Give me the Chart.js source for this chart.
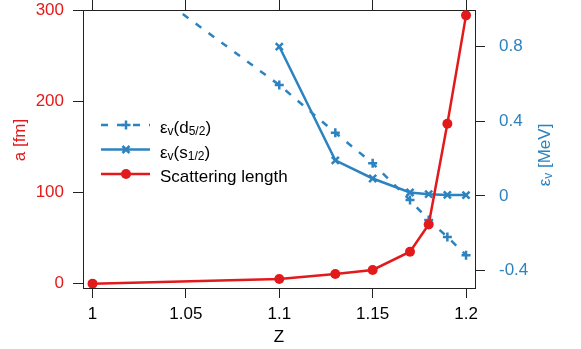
<!DOCTYPE html>
<html>
<head>
<meta charset="utf-8">
<script src="https://cdn.jsdelivr.net/npm/chart.js@4"></script>
<style>
  body { margin: 0; background: #fff; }
  #wrap { width: 581px; height: 349px; }
</style>
</head>
<body>
<div id="wrap"><canvas id="zChart" width="581" height="349"></canvas></div>
<script>
// values
const zValues = [1, 1.1, 1.13, 1.15, 1.17, 1.18, 1.19, 1.2];
const scatteringLength = [0, 5, 10.5, 15, 35, 65, 175.5, 294.5];
const zD52 = [1, 1.1, 1.13, 1.15, 1.17, 1.18, 1.19, 1.2];
const epsD52 = [1.33, 0.594, 0.338, 0.174, -0.023, -0.13, -0.22, -0.318];
const zS12 = [1.1, 1.13, 1.15, 1.17, 1.18, 1.19, 1.2];
const epsS12 = [0.8, 0.19, 0.093, 0.018, 0.009, 0.005, 0.004];

const zTicks = [1, 1.05, 1.1, 1.15, 1.2];
const aTicks = [0, 100, 200, 300];
const epsTicks = [-0.4, 0, 0.4, 0.8];

const RED = '#e31a1c';
const BLUE = '#2c83c0';
const AXIS = '#222';
const FONT = '"Liberation Sans", Arial, sans-serif';

const toPoints = (xs, ys) => xs.map((x, i) => ({ x: x, y: ys[i] }));
const setTicks = vals => scale => { scale.ticks = vals.map(v => ({ value: v })); };
// fixed scale sizes so the plot box lands where it is in the reference
const fixSize = (w, h) => scale => {
    if (w != null) scale.width = w;
    if (h != null) scale.height = h;
    scale.paddingTop = 0;
    scale.paddingBottom = 0;
    scale.paddingLeft = 0;
    scale.paddingRight = 0;
};

function drawRich(ctx, parts, x, y) {
    parts.forEach(p => {
        ctx.font = (p[1] ? 12 : 17) + 'px ' + FONT;
        ctx.fillText(p[0], x, y + (p[1] ? 2 : 0));
        x += ctx.measureText(p[0]).width;
    });
    return x;
}
function richWidth(ctx, parts) {
    let w = 0;
    parts.forEach(p => {
        ctx.font = (p[1] ? 12 : 17) + 'px ' + FONT;
        w += ctx.measureText(p[0]).width;
    });
    return w;
}

function drawMarker(ctx, style, x, y, color) {
    ctx.save();
    ctx.strokeStyle = color;
    ctx.fillStyle = color;
    ctx.lineWidth = 2.5;
    ctx.setLineDash([]);
    ctx.beginPath();
    if (style === 'cross') {
        ctx.moveTo(x - 4.5, y); ctx.lineTo(x + 4.5, y);
        ctx.moveTo(x, y - 4.5); ctx.lineTo(x, y + 4.5);
        ctx.stroke();
    } else if (style === 'crossRot') {
        ctx.moveTo(x - 3.5, y - 3.5); ctx.lineTo(x + 3.5, y + 3.5);
        ctx.moveTo(x - 3.5, y + 3.5); ctx.lineTo(x + 3.5, y - 3.5);
        ctx.stroke();
    } else {
        ctx.arc(x, y, 5, 0, Math.PI * 2);
        ctx.fill();
    }
    ctx.restore();
}

const legendRows = [
    { parts: [['ε'], ['v', 1], ['(d'], ['5/2', 1], [')']], color: BLUE, dash: [7, 9], marker: 'cross' },
    { parts: [['ε'], ['v', 1], ['(s'], ['1/2', 1], [')']], color: BLUE, dash: [], marker: 'crossRot' },
    { parts: [['Scattering length']], color: RED, dash: [], marker: 'circle' }
];

const textPlugin = {
    id: 'textPlugin',
    afterDraw(chart) {
        const ctx = chart.ctx;
        ctx.save();
        ctx.textBaseline = 'alphabetic';
        ctx.textAlign = 'left';

        // legend
        legendRows.forEach((row, i) => {
            const ly = 125 + i * 24.5;
            ctx.strokeStyle = row.color;
            ctx.lineWidth = 2.5;
            ctx.setLineDash(row.dash);
            ctx.beginPath();
            ctx.moveTo(101, ly);
            ctx.lineTo(150, ly);
            ctx.stroke();
            ctx.setLineDash([]);
            drawMarker(ctx, row.marker, 126, ly, row.color);
            ctx.fillStyle = '#000';
            drawRich(ctx, row.parts, 160, ly + 8);
        });

        // axis titles
        const leftTitle = [['a [fm]']];
        ctx.fillStyle = RED;
        ctx.save();
        ctx.translate(25, 140);
        ctx.rotate(-Math.PI / 2);
        drawRich(ctx, leftTitle, -richWidth(ctx, leftTitle) / 2, 0);
        ctx.restore();

        const rightTitle = [['ε'], ['v', 1], [' [MeV]']];
        ctx.fillStyle = BLUE;
        ctx.save();
        ctx.translate(550, 155);
        ctx.rotate(-Math.PI / 2);
        drawRich(ctx, rightTitle, -richWidth(ctx, rightTitle) / 2, 0);
        ctx.restore();

        ctx.fillStyle = '#000';
        const zTitle = [['Z']];
        drawRich(ctx, zTitle, 279 - richWidth(ctx, zTitle) / 2, 341.5);
        ctx.restore();
    }
};

const tickFont = { family: FONT, size: 17 };

new Chart(document.getElementById('zChart'), {
    type: 'line',
    data: {
        datasets: [{
            label: 'Scattering length',
            data: toPoints(zValues, scatteringLength),
            yAxisID: 'y',
            borderColor: RED,
            backgroundColor: RED,
            borderWidth: 2.5,
            pointStyle: 'circle',
            pointRadius: 5,
            pointBorderWidth: 0,
            order: 0
        }, {
            label: 'eps s1/2',
            data: toPoints(zS12, epsS12),
            yAxisID: 'y2',
            borderColor: BLUE,
            backgroundColor: BLUE,
            borderWidth: 2.5,
            pointStyle: 'crossRot',
            pointRadius: 5,
            pointBorderWidth: 2.5,
            order: 1
        }, {
            label: 'eps d5/2',
            data: toPoints(zD52, epsD52),
            yAxisID: 'y2',
            borderColor: BLUE,
            backgroundColor: BLUE,
            borderWidth: 2.5,
            borderDash: [7, 9],
            pointStyle: 'cross',
            pointRadius: 4.5,
            pointBorderWidth: 2.5,
            order: 2
        }]
    },
    options: {
        responsive: false,
        animation: false,
        layout: { padding: 0 },
        elements: { line: { tension: 0 } },
        plugins: {
            legend: { display: false },
            tooltip: { enabled: false }
        },
        scales: {
            x: {
                type: 'linear',
                position: 'bottom',
                min: 0.9949,
                max: 1.2048,
                afterBuildTicks: setTicks(zTicks),
                afterFit: fixSize(null, 61),
                ticks: { font: tickFont, color: '#000', padding: 6, maxRotation: 0, callback: v => String(v) },
                grid: { drawOnChartArea: false, tickLength: 10, tickColor: AXIS, tickWidth: 1 },
                border: { color: AXIS, width: 1 }
            },
            x2: {
                type: 'linear',
                position: 'top',
                min: 0.9949,
                max: 1.2048,
                afterBuildTicks: setTicks(zTicks),
                afterFit: fixSize(null, 10),
                ticks: { display: false },
                grid: { drawOnChartArea: false, tickLength: 10, tickColor: AXIS, tickWidth: 1 },
                border: { color: AXIS, width: 1 }
            },
            y: {
                type: 'linear',
                position: 'left',
                min: -4.8,
                max: 300.4,
                afterBuildTicks: setTicks(aTicks),
                afterFit: fixSize(83, null),
                ticks: { font: tickFont, color: RED, padding: 9, callback: v => String(v) },
                grid: { drawOnChartArea: false, tickLength: 10, tickColor: AXIS, tickWidth: 1 },
                border: { color: AXIS, width: 1 }
            },
            y2: {
                type: 'linear',
                position: 'right',
                min: -0.494,
                max: 0.996,
                afterBuildTicks: setTicks(epsTicks),
                afterFit: fixSize(106, null),
                ticks: { font: tickFont, color: BLUE, padding: 14, callback: v => String(v) },
                grid: { drawOnChartArea: false, tickLength: 10, tickColor: AXIS, tickWidth: 1 },
                border: { color: AXIS, width: 1 }
            }
        }
    },
    plugins: [textPlugin]
});
</script>
</body>
</html>
